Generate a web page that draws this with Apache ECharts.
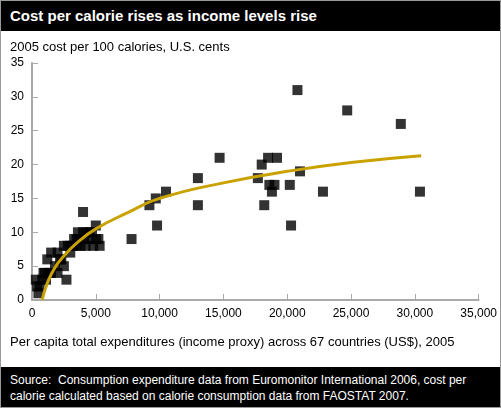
<!DOCTYPE html><html><head><meta charset="utf-8"><script src="https://cdn.jsdelivr.net/npm/echarts@6/dist/echarts.min.js"></script>
<style>body{margin:0;font-family:Helvetica,Arial,"Liberation Sans",sans-serif}
#wrap{width:499px;height:406px;border:1px solid #999;position:relative;background:#fff}
#hdr{background:#000;color:#fff;font-weight:bold;font-size:15px;height:30px;line-height:30px;padding-left:9px}
#ftr{position:absolute;left:0;right:0;bottom:0;height:40px;background:#000;color:#fff;font-size:12px;padding:5px 9px;box-sizing:border-box;line-height:16px}
#c{position:absolute;left:0;top:30px;width:499px;height:336px}</style></head><body>
<div id="wrap"><div id="hdr">Cost per calorie rises as income levels rise</div><div id="c"></div>
<div id="ftr">Source:&nbsp; Consumption expenditure data from Euromonitor International 2006, cost per calorie calculated based on calorie consumption data from FAOSTAT 2007.</div></div>
<script>
const xIncome=[300,400,500,800,900,1000,1500,2000,1200,1500,2000,2500,2200,2500,2700,3000,3000,3300,3500,3700,4000,4000,4200,4500,4500,5000,5000,5300,4800,7800,9200,9700,9800,10500,13000,13000,14700,17700,18000,18200,18500,18600,18800,19000,19200,20200,20300,20800,21000,22800,24700,28900,30400,3500,3200,4300,1800,600,1100,2800,3800,4100,4700,3600,2300,5200,1300];
const yCost=[3,2,1,3,4,4,4,4,6,7,7,8,6,5,3,7,8,9,8,9,13,10,8,10,9,11,9,8,8,9,14,15,11,16,18,14,21,18,20,14,21,17,16,17,21,17,11,31,19,16,28,26,16,9,8,10,5,2,3,8,8,9,10,10,6,9,4];
const trendX=[800,1200,1800,2500,3500,5000,7500,10000,15000,20000,25000,30500];
const trendY=[0,2.5,4.8,6.5,8.4,10.5,12.9,15,17.3,19,20.3,21.3];
const c=echarts.init(document.getElementById('c'));
c.setOption({animation:false,
grid:{left:31,right:13,top:32,bottom:67},
graphic:[{type:'text',left:9,top:10,style:{text:'2005 cost per 100 calories, U.S. cents',fontSize:13,fill:'#000'}},
{type:'text',left:9,top:305,style:{text:'Per capita total expenditures (income proxy) across 67 countries (US$), 2005',fontSize:13,fill:'#000'}}],
xAxis:{type:'value',min:0,max:35000,interval:5000,axisLine:{lineStyle:{color:'#aaa',width:2}},axisTick:{inside:true,length:6,lineStyle:{color:'#aaa'}},splitLine:{show:false},
axisLabel:{color:'#000',fontSize:12,formatter:v=>v.toLocaleString('en-US')}},
yAxis:{type:'value',min:0,max:35,interval:5,axisLine:{show:true,lineStyle:{color:'#aaa',width:2}},axisTick:{show:true,inside:true,length:6,lineStyle:{color:'#aaa'}},splitLine:{show:false},axisLabel:{color:'#000',fontSize:12}},
series:[{type:'scatter',symbol:'rect',symbolSize:10,itemStyle:{color:'#000'},data:xIncome.map((x,i)=>[x,yCost[i]])},
{type:'line',smooth:true,showSymbol:false,lineStyle:{color:'#c9a200',width:3},data:trendX.map((x,i)=>[x,trendY[i]]),z:3}]});
</script></body></html>
